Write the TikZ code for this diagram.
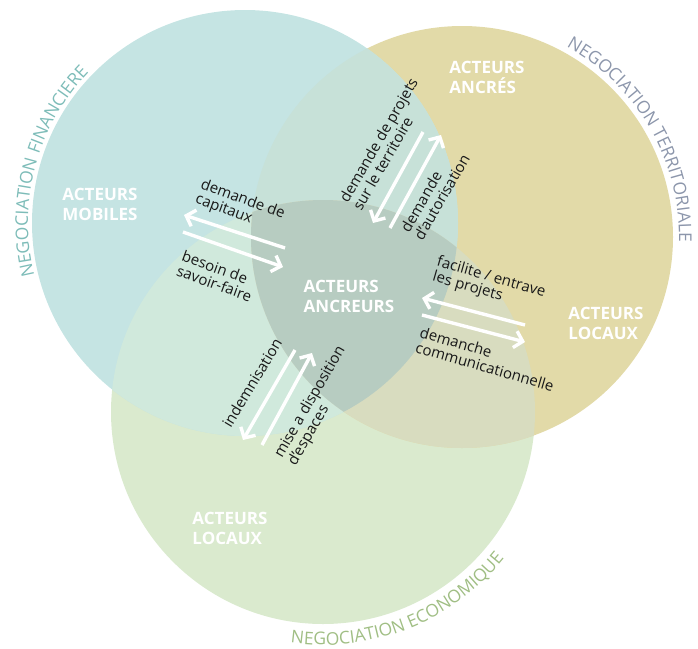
\documentclass[tikz,border=0pt]{standalone}
\usepackage{fontspec}
\setmainfont{Open Sans}
\usetikzlibrary{arrows.meta,decorations.text}

\definecolor{bleu}{HTML}{C5E4E3}
\definecolor{kaki}{HTML}{E2DAA8}
\definecolor{vert}{HTML}{DAEACE}
\definecolor{bleukaki}{HTML}{C7E1D8}
\definecolor{bleuvert}{HTML}{D0E9DC}
\definecolor{kakivert}{HTML}{D8DCBF}
\definecolor{centre}{HTML}{B7CCC1}
\definecolor{tfin}{HTML}{7DBCB8}
\definecolor{tter}{HTML}{8C96AB}
\definecolor{teco}{HTML}{A0BE84}

\tikzset{
  fleche/.style={draw=white,line width=3.4pt,-{Straight Barb[length=8pt,width=17pt]}},
  arc text/.style={decorate,decoration={text along path,text align=center,
      text={|\fontsize{17.5}{17.5}\selectfont|#1}}}
}

\begin{document}
\begin{tikzpicture}[x=1pt,y=1pt]
      \useasboundingbox (0,0) rectangle (698,-648);
      \fill[vert] (323,-412) circle (212);
      \fill[kaki] (462,-237) circle (211);
      \fill[bleu] (245,-223) circle (213);
      \begin{scope}
        \clip (245,-223) circle (213);
        \fill[bleukaki] (462,-237) circle (211);
        \fill[bleuvert] (323,-412) circle (212);
      \end{scope}
      \begin{scope}
        \clip (462,-237) circle (211);
        \fill[kakivert] (323,-412) circle (212);
        \clip (245,-223) circle (213);
        \fill[centre] (323,-412) circle (212);
      \end{scope}
      \path[arc text={NEGOCIATION FINANCIERE},decoration={text color=tfin}]
        (245,-223) ++(196:217) arc[start angle=196,end angle=134,radius=217];
      \path[arc text={NEGOCIATION TERRITORIALE},decoration={text color=tter}]
        (462,-237) ++(62:217) arc[start angle=62,end angle=-2,radius=217];
      \path[arc text={NEGOCIATION ECONOMIQUE},decoration={text color=teco}]
        (323,-412) ++(260:233) arc[start angle=260,end angle=323,radius=233];
      \begin{scope}[every node/.style={text=white,align=left,font=\fontsize{17}{20}\selectfont\bfseries}]
        \node (mobiles) at (100,-204) {ACTEURS\\MOBILES};
        \node (ancres) at (487,-77) {ACTEURS\\ANCRÉS};
        \node (ancreurs) at (349,-296) {ACTEURS\\ANCREURS};
        \node (locauxd) at (606,-323) {ACTEURS\\LOCAUX};
        \node (locauxb) at (230,-528) {ACTEURS\\LOCAUX};
      \end{scope}
      \begin{scope}[every node/.style={text=black!90,align=left,font=\fontsize{15}{15.5}\selectfont}]
        \node[rotate=-20] (capitaux) at (240,-207) {demande de\\capitaux};
        \node[rotate=-20] (savoir) at (217,-276) {besoin de\\savoir-faire};
        \node[rotate=60] (territoire) at (385,-144) {demande de projets\\sur le territoire};
        \node[rotate=60] (autorisation) at (435,-193) {demande\\d'autorisation};
        \node[rotate=-16] (facilite) at (489,-285) {facilite / entrave\\les projets};
        \node[rotate=-16] (communication) at (487,-359) {demanche\\communicationnelle};
        \node[rotate=59] (indemnisation) at (252,-383) {indemnisation};
        \node[rotate=60] (espaces) at (317,-406) {mise a disposition\\d'espaces};
      \end{scope}
      \coordinate (c1) at (285,-248); \coordinate (c2) at (184,-215);
      \coordinate (c3) at (183,-232); \coordinate (c4) at (283,-267);
      \coordinate (t1) at (423,-132); \coordinate (t2) at (373,-223);
      \coordinate (t3) at (390,-228); \coordinate (t4) at (441,-135);
      \coordinate (f1) at (525,-325); \coordinate (f2) at (422,-298);
      \coordinate (f3) at (422,-315); \coordinate (f4) at (525,-342);
      \coordinate (e1) at (295,-350); \coordinate (e2) at (243,-440);
      \coordinate (e3) at (262,-445); \coordinate (e4) at (312,-353);
      \draw[fleche] (c1) -- (c2);
      \draw[fleche] (c3) -- (c4);
      \draw[fleche] (t1) -- (t2);
      \draw[fleche] (t3) -- (t4);
      \draw[fleche] (f1) -- (f2);
      \draw[fleche] (f3) -- (f4);
      \draw[fleche] (e1) -- (e2);
      \draw[fleche] (e3) -- (e4);
\end{tikzpicture}
\end{document}
